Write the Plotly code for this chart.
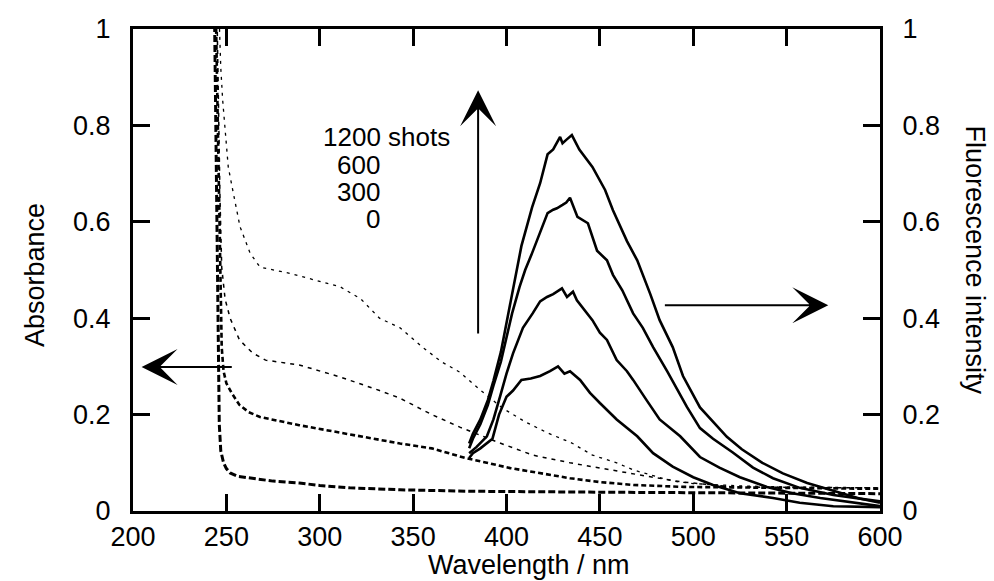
import plotly.graph_objects as go

# ---------------- Absorbance (left axis), dashed ----------------
abs_wl_0 = [243.6, 244.5, 245.3, 245.7, 246.2, 247, 248.5, 250, 252, 256, 263, 275, 289, 300, 316, 343, 380, 400, 450, 500, 550, 600]
abs_0 = [1.05, 0.7, 0.45, 0.3, 0.18, 0.125, 0.1, 0.088, 0.079, 0.072, 0.068, 0.062, 0.058, 0.053, 0.048, 0.044, 0.041, 0.040, 0.039, 0.038, 0.037, 0.036]

abs_wl_300 = [244.3, 246, 247, 247.5, 248.5, 250, 252.8, 257, 262, 268, 289, 311, 332, 343, 360, 378, 402, 418, 434, 450, 468, 495, 550, 600]
abs_300 = [1.05, 0.7, 0.45, 0.34, 0.29, 0.265, 0.245, 0.22, 0.205, 0.195, 0.178, 0.162, 0.147, 0.14, 0.13, 0.11, 0.089, 0.079, 0.068, 0.06, 0.054, 0.05, 0.048, 0.046]

abs_wl_600 = [244.9, 245.8, 246.6, 247.5, 249.3, 252, 257, 264, 271, 289, 311, 332, 343, 360, 375, 396.5, 414, 434, 450, 464.5, 477, 494.5, 521, 550, 600]
abs_600 = [1.05, 0.8, 0.645, 0.506, 0.44, 0.40, 0.355, 0.328, 0.313, 0.303, 0.278, 0.25, 0.234, 0.2, 0.174, 0.141, 0.116, 0.1, 0.089, 0.079, 0.071, 0.06, 0.05, 0.049, 0.048]

abs_wl_1200 = [245.9, 247, 248, 249.3, 251, 253.7, 257.3, 262.7, 268, 284, 311, 322, 332, 343, 355, 365, 375, 386, 398, 410, 422, 435, 446, 459, 468, 477, 489, 500, 525, 550, 575, 600]
abs_1200 = [1.05, 0.92, 0.853, 0.784, 0.714, 0.66, 0.59, 0.535, 0.506, 0.493, 0.465, 0.44, 0.40, 0.38, 0.34, 0.31, 0.288, 0.251, 0.213, 0.185, 0.162, 0.141, 0.116, 0.1, 0.085, 0.075, 0.062, 0.057, 0.052, 0.05, 0.049, 0.048]

# ---------------- Fluorescence (right axis), solid ----------------
fl_wl_0 = [380, 382, 386, 392.5, 396, 400, 403.5, 408, 413, 418, 423.3, 427.6, 431, 434, 439.4, 444.7, 450, 459, 470, 478.5, 489, 500, 510.6, 525, 542.7, 557, 575, 600]
fl_0 = [0.11, 0.12, 0.13, 0.15, 0.2, 0.237, 0.25, 0.272, 0.275, 0.28, 0.29, 0.30, 0.285, 0.29, 0.272, 0.245, 0.224, 0.19, 0.155, 0.12, 0.092, 0.07, 0.054, 0.037, 0.027, 0.017, 0.01, 0.008]

fl_wl_300 = [380, 384, 389.5, 393, 396.5, 400, 403.5, 408.8, 414, 418, 421.7, 425, 429.7, 432.4, 435.6, 437.7, 446, 450, 453.8, 459, 464.5, 467.8, 475, 482, 493, 503.6, 514, 525, 539.5, 553, 568, 585.6, 600]
fl_300 = [0.12, 0.133, 0.155, 0.19, 0.237, 0.285, 0.327, 0.38, 0.41, 0.435, 0.444, 0.45, 0.462, 0.444, 0.455, 0.437, 0.396, 0.37, 0.355, 0.313, 0.29, 0.272, 0.23, 0.19, 0.155, 0.112, 0.09, 0.07, 0.05, 0.037, 0.027, 0.017, 0.01]

fl_wl_600 = [380, 382, 386, 390, 393, 397, 400, 403, 407, 410, 413.7, 418, 422, 425, 427, 430, 432, 434, 436, 438, 443.6, 448.5, 453.8, 457, 462, 467.8, 473, 478.5, 486, 496.6, 503.6, 510.6, 521, 532, 542.7, 557, 575, 593, 600]
fl_600 = [0.13, 0.15, 0.18, 0.22, 0.26, 0.31, 0.36, 0.41, 0.465, 0.5, 0.535, 0.577, 0.618, 0.625, 0.628, 0.635, 0.64, 0.65, 0.63, 0.61, 0.597, 0.54, 0.52, 0.49, 0.458, 0.41, 0.38, 0.34, 0.29, 0.216, 0.172, 0.15, 0.122, 0.09, 0.068, 0.048, 0.033, 0.023, 0.02]

fl_wl_1200 = [380, 382, 386, 390, 393, 397, 400, 403.5, 408, 413.7, 418, 422, 425, 428.7, 430, 432, 435, 439, 446, 452.8, 457, 464.5, 470, 477, 482, 489, 494.5, 503.6, 512.7, 518, 526, 537, 548, 561, 575, 589, 600]
fl_1200 = [0.14, 0.16, 0.19, 0.23, 0.27, 0.33, 0.39, 0.46, 0.55, 0.63, 0.68, 0.74, 0.75, 0.776, 0.763, 0.77, 0.78, 0.75, 0.714, 0.666, 0.624, 0.56, 0.52, 0.45, 0.396, 0.34, 0.28, 0.215, 0.175, 0.154, 0.128, 0.1, 0.078, 0.058, 0.042, 0.026, 0.017]

x_ticks = [200, 250, 300, 350, 400, 450, 500, 550, 600]
y_ticks = [0, 0.2, 0.4, 0.6, 0.8, 1]
y_ticktext = ["0", "0.2", "0.4", "0.6", "0.8", "1"]
legend_labels = ["1200 shots", "600", "300", "0"]

FONT = "Arial, Liberation Sans, sans-serif"
FS = 27

fig = go.Figure()

abs_series = [
    (abs_wl_0, abs_0, 3.0, "7px,3px"),
    (abs_wl_300, abs_300, 2.6, "5px,3px"),
    (abs_wl_600, abs_600, 1.5, "4px,5px"),
    (abs_wl_1200, abs_1200, 1.3, "3px,5px"),
]
for wl, v, w, d in abs_series:
    fig.add_trace(go.Scatter(x=wl, y=v, mode="lines", yaxis="y",
                             line=dict(color="black", width=w, dash=d),
                             showlegend=False, hoverinfo="skip"))

for wl, v in [(fl_wl_0, fl_0), (fl_wl_300, fl_300), (fl_wl_600, fl_600), (fl_wl_1200, fl_1200)]:
    fig.add_trace(go.Scatter(x=wl, y=v, mode="lines", yaxis="y2",
                             line=dict(color="black", width=2.6),
                             showlegend=False, hoverinfo="skip"))

axis_common = dict(showgrid=False, zeroline=False, showline=True, linecolor="black",
                   linewidth=3, ticks="inside", ticklen=17, tickwidth=3, tickcolor="black",
                   tickfont=dict(family=FONT, size=FS, color="black"))

fig.update_layout(
    width=994, height=581,
    margin=dict(l=133, r=114, t=29, b=70, autoexpand=False),
    paper_bgcolor="white", plot_bgcolor="white",
    font=dict(family=FONT, size=FS, color="black"),
    xaxis=dict(range=[200, 600], tickvals=x_ticks, mirror="ticks", ticklabelstandoff=0,
               automargin=False, **axis_common),
    yaxis=dict(range=[0, 1], tickvals=y_ticks, ticktext=y_ticktext, mirror=True,
               ticklabelstandoff=14, automargin=False, **axis_common),
    yaxis2=dict(range=[0, 1], tickvals=y_ticks, ticktext=y_ticktext, overlaying="y", side="right",
                ticklabelstandoff=14, automargin=False, **axis_common),
)

annotations = [
    # axis titles
    dict(text="Wavelength / nm", xref="paper", yref="paper", x=0.53, y=-0.112,
         xanchor="center", yanchor="middle", showarrow=False),
    dict(text="Absorbance", xref="paper", yref="paper", x=-0.131, y=0.49,
         xanchor="center", yanchor="middle", textangle=-90, showarrow=False),
    dict(text="Fluorescence intensity", xref="paper", yref="paper", x=1.127, y=0.52,
         xanchor="center", yanchor="middle", textangle=90, showarrow=False),
    # legend-like labels
    dict(text=legend_labels[0], xref="x", yref="y", x=301, y=0.776, xanchor="left", yanchor="middle",
         showarrow=False, font=dict(size=26), borderpad=0),
    dict(text=legend_labels[1], xref="x", yref="y", x=332.8, y=0.718, xanchor="right", yanchor="middle",
         showarrow=False, font=dict(size=26), borderpad=0),
    dict(text=legend_labels[2], xref="x", yref="y", x=332.8, y=0.662, xanchor="right", yanchor="middle",
         showarrow=False, font=dict(size=26), borderpad=0),
    dict(text=legend_labels[3], xref="x", yref="y", x=332.8, y=0.606, xanchor="right", yanchor="middle",
         showarrow=False, font=dict(size=26), borderpad=0),
]
arrow_style = dict(showarrow=True, arrowhead=3, arrowsize=3, arrowwidth=2, arrowcolor="black", text="",
                   xref="x", yref="y", axref="x", ayref="y")
annotations += [
    dict(x=384.8, y=0.873, ax=384.8, ay=0.365, **arrow_style),
    dict(x=204.6, y=0.299, ax=253.7, ay=0.299, **arrow_style),
    dict(x=572.3, y=0.427, ax=484.0, ay=0.427, **arrow_style),
]
fig.update_layout(annotations=annotations)

fig.write_html("out.html", config={"displayModeBar": False},
               post_script="document.body.style.margin='0px';document.body.style.overflow='hidden';")
